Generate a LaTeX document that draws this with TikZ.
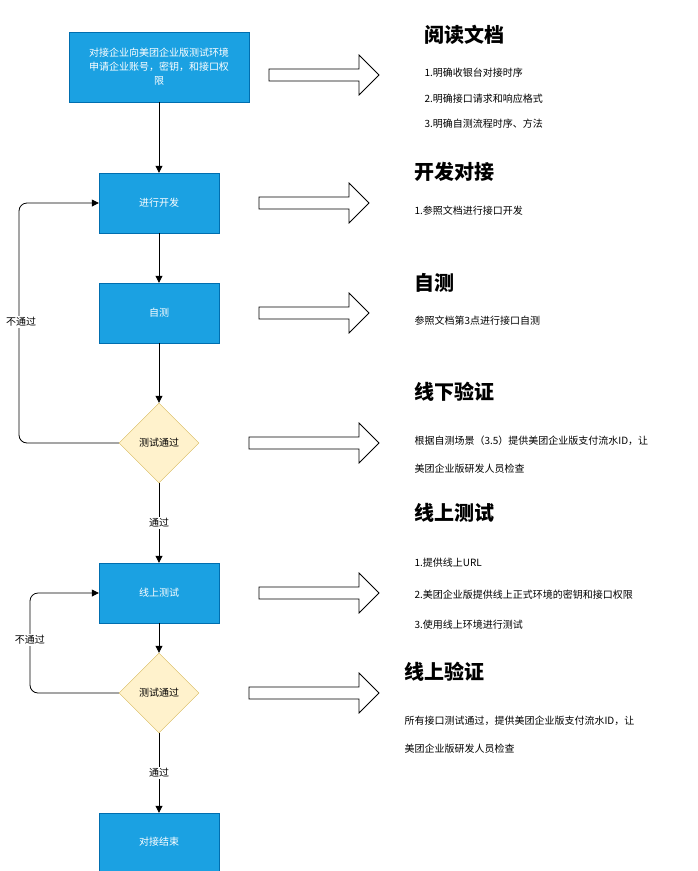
\documentclass[tikz,border=0pt]{standalone}
\usepackage{fontspec}
\setmainfont{Noto Sans CJK SC}
\usetikzlibrary{shapes.geometric,arrows.meta}
\definecolor{bfill}{HTML}{1BA1E2}
\definecolor{bline}{HTML}{006EAF}
\definecolor{dfill}{HTML}{FFF2CC}
\definecolor{dline}{HTML}{D6B656}
\begin{document}
\begin{tikzpicture}[x=1pt,y=-1pt,
 box/.style={draw=bline,fill=bfill,text=white,minimum width=120pt,minimum height=60pt,font=\fontsize{10}{14}\selectfont,align=center,inner sep=2pt},
 dia/.style={diamond,draw=dline,fill=dfill,minimum width=80pt,minimum height=80pt,inner sep=0pt,font=\fontsize{10}{12}\selectfont},
 con/.style={-{Triangle[length=7pt,width=7pt]},line width=0.8pt},
 lab/.style={font=\fontsize{10}{12}\selectfont,fill=white,inner sep=1pt},
 big/.style={line width=0.8pt,fill=white},
 head/.style={font=\fontsize{20}{22}\bfseries\selectfont,anchor=west},
 txt/.style={font=\fontsize{10}{13}\selectfont,anchor=west,align=left}]
\useasboundingbox (0,0) rectangle (697,871);
\node[box,minimum width=180pt,minimum height=70pt] (a) at (159,67) {对接企业向美团企业版测试环境\\申请企业账号，密钥，和接口权\\限};
\node[box] (b) at (159,203) {进行开发};
\node[box] (c) at (159,313) {自测};
\node[dia] (d) at (159,443) {测试通过};
\node[box] (e) at (159,593) {线上测试};
\node[dia] (f) at (159,693) {测试通过};
\node[box,minimum height=58pt] (g) at (159,842) {对接结束};
\draw[con] (a) -- (b);
\draw[con] (b) -- (c);
\draw[con] (c) -- (d);
\draw[con] (d) -- node[lab]{通过} (e);
\draw[con] (e) -- (f);
\draw[con] (f) -- node[lab]{通过} (g);
\coordinate (l1a) at (19,443); \coordinate (l1b) at (19,203);
\draw[con,rounded corners=8pt] (d.west) -- (l1a) -- (l1b) -- (b.west);
\node[lab] (n1) at (21,322) {不通过};
\coordinate (l2a) at (30,693); \coordinate (l2b) at (30,593);
\draw[con,rounded corners=8pt] (f.west) -- (l2a) -- (l2b) -- (e.west);
\node[lab] (n2) at (30,640) {不通过};
\foreach \x/\y/\e in {269/75/379, 259/203/369, 259/313/369, 249/443/379, 259/593/379, 249/693/379}{
 \draw[big] (\x,\y-6) -- (\e-20,\y-6) -- (\e-20,\y-20) -- (\e,\y) -- (\e-20,\y+20) -- (\e-20,\y+6) -- (\x,\y+6) -- cycle;
}
\node[head] (h1) at (421,35) {阅读文档};
\node[txt] (t1) at (421,73) {1.明确收银台对接时序};
\node[txt] (t2) at (421,99) {2.明确接口请求和响应格式};
\node[txt] (t3) at (421,124) {3.明确自测流程时序、方法};
\node[head] (h2) at (411,172) {开发对接};
\node[txt] (t4) at (411,211) {1.参照文档进行接口开发};
\node[head] (h3) at (411,283) {自测};
\node[txt] (t5) at (411,321) {参照文档第3点进行接口自测};
\node[head] (h4) at (411,392) {线下验证};
\node[txt] (t6) at (411,441) {根据自测场景（3.5）提供美团企业版支付流水ID，让};
\node[txt] (t7) at (411,469) {美团企业版研发人员检查};
\node[head] (h5) at (411,513) {线上测试};
\node[txt] (t8) at (411,563) {1.提供线上URL};
\node[txt] (t9) at (411,595) {2.美团企业版提供线上正式环境的密钥和接口权限};
\node[txt] (t10) at (411,625) {3.使用线上环境进行测试};
\node[head] (h6) at (401,672) {线上验证};
\node[txt] (t11) at (401,721) {所有接口测试通过，提供美团企业版支付流水ID，让};
\node[txt] (t12) at (401,749) {美团企业版研发人员检查};
\end{tikzpicture}
\end{document}
